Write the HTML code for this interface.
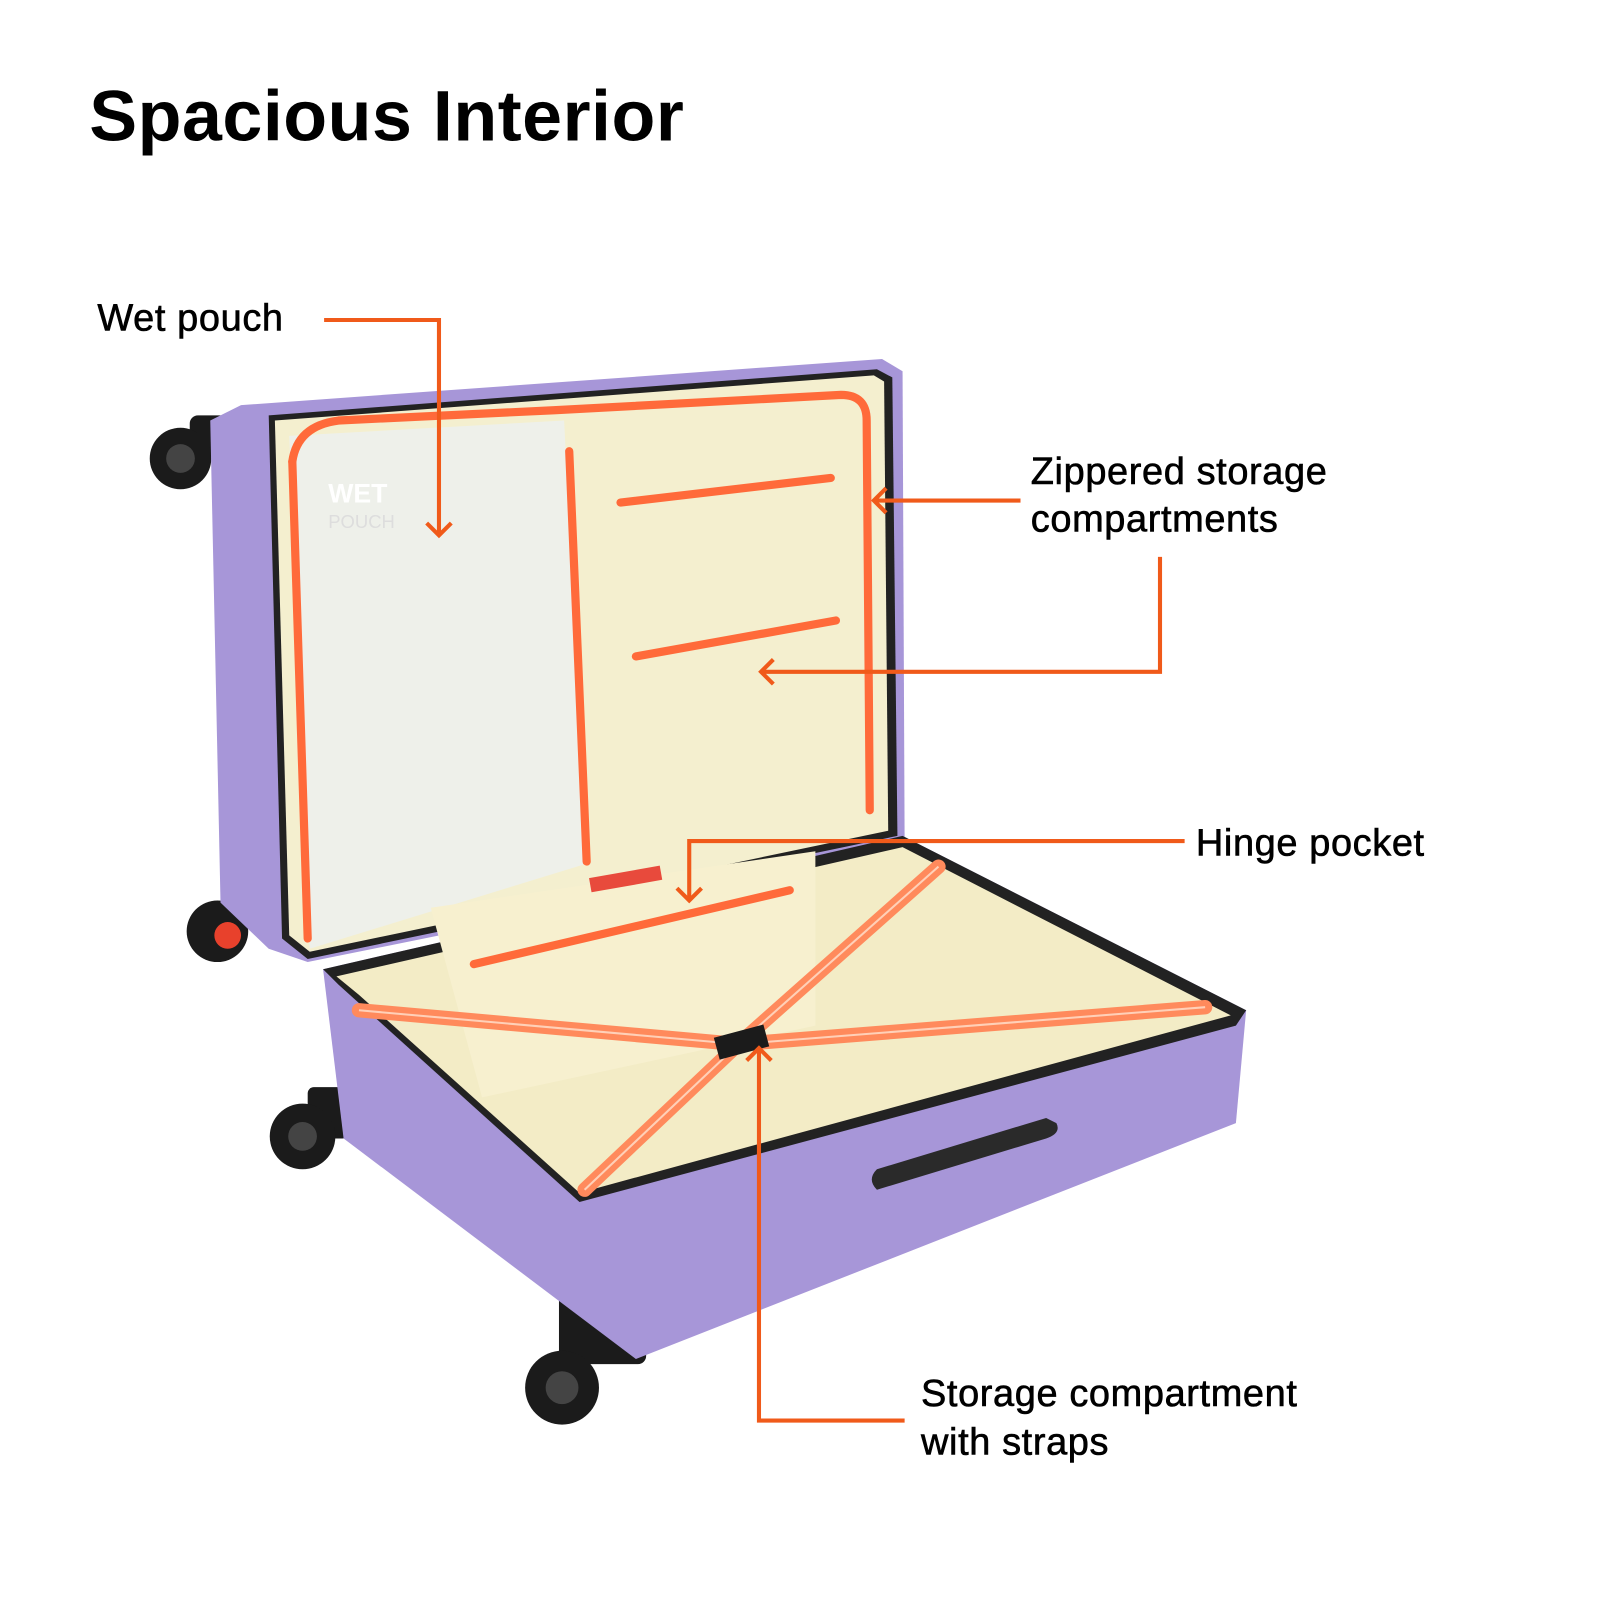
<!DOCTYPE html>
<html><head><meta charset="utf-8"><style>
html,body{margin:0;padding:0;background:#fff}
svg{display:block}
text{font-family:"Liberation Sans",Arial,sans-serif;fill:#000}
</style></head><body>
<svg width="1600" height="1600" viewBox="0 0 1560 1560" xmlns="http://www.w3.org/2000/svg">
<rect width="1560" height="1560" fill="#fff"/>
<text x="87" y="137" font-size="70" font-weight="bold" letter-spacing="0.5">Spacious Interior</text>

<g fill="#1b1b1b">
<rect x="185" y="405" width="50" height="40" rx="8"/>
<circle cx="176" cy="447" r="30"/><circle cx="176" cy="447" r="14" fill="#444"/>
<rect x="215" y="870" width="45" height="30" rx="6"/>
<circle cx="212" cy="908" r="30"/><circle cx="222" cy="912" r="13" fill="#e8412c"/>
<rect x="300" y="1060" width="40" height="50" rx="6"/>
<circle cx="295" cy="1108" r="32"/><circle cx="295" cy="1108" r="14" fill="#444"/>
<rect x="545" y="1260" width="85" height="70" rx="8"/>
<circle cx="548" cy="1353" r="36"/><circle cx="548" cy="1353" r="16" fill="#444"/>
</g>

<polygon points="205,410 235,395 860,350 880,362 882,820 300,938 262,925 215,880" fill="#a796d8"/>
<polygon points="262,405 855,360 870,368 875,815 300,935 275,915" fill="#222"/>
<polygon points="268,410 852,366 862,372 866,810 302,928 282,912" fill="#f4efcf"/>
<polygon points="282,425 550,410 572,842 302,925" fill="#eef0ea"/>
<g fill="none" stroke="#ff6a3a" stroke-width="8" stroke-linecap="round">
<path d="M285,450 Q290,415 330,410 L540,400 L820,385 Q845,385 845,410 L848,790"/>
<path d="M285,450 L300,915"/>
<path d="M555,440 L572,840"/>
<path d="M605,490 L810,466"/>
<path d="M620,640 L815,605"/>
</g>
<text x="320" y="490" font-size="26" font-weight="bold" style="fill:#fff">WET</text>
<text x="320" y="515" font-size="18" style="fill:#ddd">POUCH</text>

<polygon points="315,945 880,815 1215,985 1205,1095 620,1325 335,1110" fill="#a796d8"/>
<polygon points="315,945 880,815 1215,985 1205,1000 565,1172 330,960" fill="#222"/>
<polygon points="328,952 880,826 1200,990 565,1163 350,970" fill="#f3ecc6"/>
<polygon points="420,885 795,830 795,1000 470,1070" fill="#f7f0cf"/>
<path d="M462,940 L770,868" stroke="#ff6a3a" stroke-width="8" stroke-linecap="round"/>
<rect x="575" y="850" width="70" height="14" fill="#e84a3c" transform="rotate(-10 610 857)"/>
<g stroke="#ff8a5c" stroke-width="14" stroke-linecap="round">
<path d="M350,985 L720,1018"/>
<path d="M720,1018 L1175,982"/>
<path d="M720,1018 L570,1160"/>
<path d="M720,1018 L915,845"/>
</g>
<g stroke="#ffd0b8" stroke-width="2">
<path d="M350,985 L720,1018"/>
<path d="M720,1018 L1175,982"/>
<path d="M720,1018 L570,1160"/>
<path d="M720,1018 L915,845"/>
</g>
<rect x="698" y="1005" width="50" height="22" fill="#1b1b1b" transform="rotate(-15 723 1016)"/>
<path d="M855,1160 L1020,1110 Q1035,1105 1030,1095 L1020,1090 L855,1140 Q845,1150 855,1160Z" fill="#2a2a2a"/>

<g fill="none" stroke="#f05a1a" stroke-width="4">
<path d="M316,312 H428 V522"/><path d="M416,510 L428,522 L440,510"/>
<path d="M995,488 H852"/><path d="M864,476 L852,488 L864,500"/>
<path d="M1131,543 V655 H742"/><path d="M754,643 L742,655 L754,667"/>
<path d="M1155,820 H672 V878"/><path d="M660,866 L672,878 L684,866"/>
<path d="M882,1385 H740 V1022"/><path d="M728,1034 L740,1022 L752,1034"/>
</g>

<g font-size="37" letter-spacing="0.6" style="stroke:#000;stroke-width:0.6">
<text x="95" y="322">Wet pouch</text>
<text x="1005" y="472">Zippered storage</text>
<text x="1005" y="518">compartments</text>
<text x="1166" y="834">Hinge pocket</text>
<text x="898" y="1371">Storage compartment</text>
<text x="898" y="1418">with straps</text>
</g>
</svg>
</body></html>
